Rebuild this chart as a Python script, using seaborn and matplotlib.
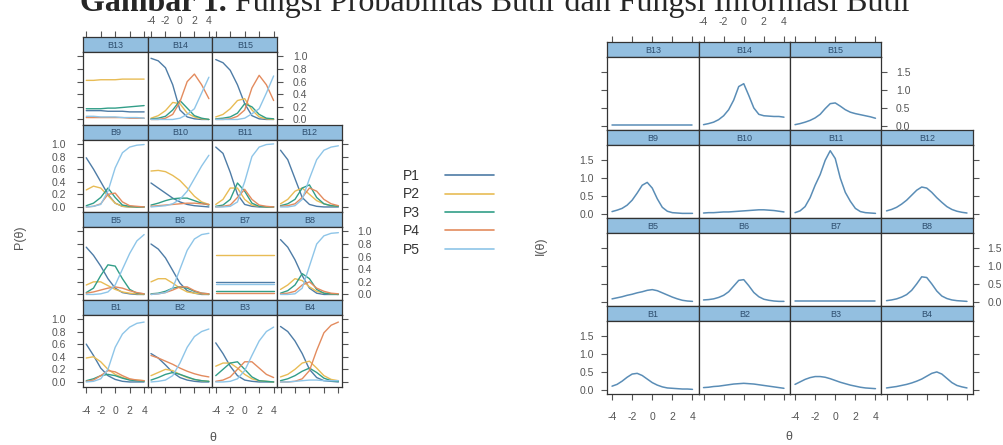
import numpy as np
import pandas as pd
import matplotlib
matplotlib.use("Agg")
import matplotlib.pyplot as plt
import seaborn as sns

# ---------------- data ----------------
theta_p = [-4, -3, -2, -1, 0, 1, 2, 3, 4]
theta_i = [-4, -3.5, -3, -2.5, -2, -1.5, -1, -0.5, 0, 0.5, 1, 1.5, 2, 2.5, 3, 3.5, 4]
categories = ["P1", "P2", "P3", "P4", "P5"]
x_ticks = [-4, -2, 0, 2, 4]
x_ticklabels = ["-4", "-2", "0", "2", "4"]
p_yticks = [0.0, 0.2, 0.4, 0.6, 0.8, 1.0]
p_yticklabels = ["0.0", "0.2", "0.4", "0.6", "0.8", "1.0"]
i_yticks = [0.0, 0.5, 1.0, 1.5]
i_yticklabels = ["0.0", "0.5", "1.0", "1.5"]
title_bold = "Gambar 1."
title_rest = " Fungsi Probabilitas Butir dan Fungsi Informasi Butir"

# probability curves: rows = P1..P5, values at theta_p
prob_B1 = [[0.60, 0.42, 0.22, 0.10, 0.04, 0.01, 0.00, 0.00, 0.00],
           [0.38, 0.40, 0.32, 0.20, 0.12, 0.07, 0.04, 0.03, 0.02],
           [0.02, 0.05, 0.10, 0.12, 0.10, 0.06, 0.03, 0.02, 0.01],
           [0.01, 0.03, 0.10, 0.18, 0.16, 0.10, 0.05, 0.03, 0.02],
           [0.00, 0.01, 0.05, 0.20, 0.55, 0.76, 0.87, 0.93, 0.95]]
prob_B2 = [[0.45, 0.38, 0.27, 0.15, 0.07, 0.03, 0.01, 0.00, 0.00],
           [0.10, 0.15, 0.20, 0.18, 0.12, 0.07, 0.04, 0.02, 0.01],
           [0.03, 0.07, 0.12, 0.15, 0.12, 0.08, 0.04, 0.02, 0.01],
           [0.42, 0.38, 0.33, 0.28, 0.22, 0.17, 0.13, 0.10, 0.08],
           [0.00, 0.01, 0.03, 0.10, 0.30, 0.55, 0.72, 0.80, 0.84]]
prob_B3 = [[0.62, 0.45, 0.25, 0.10, 0.03, 0.01, 0.00, 0.00, 0.00],
           [0.25, 0.30, 0.30, 0.22, 0.12, 0.05, 0.02, 0.01, 0.00],
           [0.10, 0.20, 0.30, 0.32, 0.20, 0.08, 0.02, 0.01, 0.00],
           [0.01, 0.03, 0.08, 0.20, 0.32, 0.32, 0.22, 0.12, 0.07],
           [0.00, 0.00, 0.01, 0.05, 0.18, 0.42, 0.65, 0.80, 0.87]]
prob_B4 = [[0.88, 0.80, 0.65, 0.45, 0.20, 0.07, 0.02, 0.01, 0.00],
           [0.08, 0.12, 0.20, 0.30, 0.33, 0.22, 0.10, 0.04, 0.02],
           [0.02, 0.05, 0.10, 0.17, 0.22, 0.15, 0.06, 0.02, 0.01],
           [0.00, 0.00, 0.01, 0.05, 0.18, 0.50, 0.78, 0.90, 0.95],
           [0.00, 0.00, 0.01, 0.02, 0.03, 0.03, 0.02, 0.02, 0.02]]
prob_B5 = [[0.75, 0.62, 0.45, 0.25, 0.10, 0.03, 0.01, 0.00, 0.00],
           [0.15, 0.20, 0.20, 0.14, 0.08, 0.04, 0.02, 0.01, 0.00],
           [0.03, 0.10, 0.30, 0.47, 0.45, 0.25, 0.08, 0.02, 0.01],
           [0.02, 0.04, 0.07, 0.10, 0.12, 0.10, 0.06, 0.03, 0.01],
           [0.00, 0.00, 0.01, 0.04, 0.15, 0.40, 0.65, 0.85, 0.95]]
prob_B6 = [[0.80, 0.72, 0.58, 0.38, 0.18, 0.06, 0.02, 0.00, 0.00],
           [0.20, 0.25, 0.25, 0.18, 0.10, 0.04, 0.02, 0.01, 0.00],
           [0.01, 0.02, 0.05, 0.10, 0.12, 0.10, 0.05, 0.02, 0.01],
           [0.00, 0.01, 0.03, 0.07, 0.12, 0.12, 0.06, 0.02, 0.01],
           [0.00, 0.01, 0.03, 0.10, 0.40, 0.70, 0.88, 0.95, 0.97]]
prob_B7 = [[0.19, 0.19, 0.19, 0.19, 0.19, 0.19, 0.19, 0.19, 0.19],
           [0.62, 0.62, 0.62, 0.62, 0.62, 0.62, 0.62, 0.62, 0.62],
           [0.05, 0.05, 0.05, 0.05, 0.05, 0.05, 0.05, 0.05, 0.05],
           [0.03, 0.03, 0.03, 0.03, 0.03, 0.03, 0.03, 0.03, 0.03],
           [0.16, 0.16, 0.16, 0.16, 0.16, 0.16, 0.16, 0.16, 0.16]]
prob_B8 = [[0.87, 0.75, 0.55, 0.30, 0.10, 0.02, 0.00, 0.00, 0.00],
           [0.08, 0.15, 0.25, 0.22, 0.12, 0.05, 0.02, 0.01, 0.00],
           [0.02, 0.06, 0.15, 0.33, 0.25, 0.08, 0.02, 0.01, 0.00],
           [0.01, 0.02, 0.05, 0.15, 0.20, 0.10, 0.05, 0.02, 0.01],
           [0.00, 0.00, 0.01, 0.10, 0.45, 0.80, 0.93, 0.97, 0.98]]
prob_B9 = [[0.78, 0.60, 0.40, 0.20, 0.06, 0.01, 0.00, 0.00, 0.00],
           [0.27, 0.33, 0.30, 0.18, 0.06, 0.01, 0.00, 0.00, 0.00],
           [0.02, 0.06, 0.15, 0.30, 0.15, 0.03, 0.01, 0.00, 0.00],
           [0.00, 0.01, 0.05, 0.20, 0.22, 0.08, 0.02, 0.01, 0.00],
           [0.00, 0.01, 0.04, 0.25, 0.62, 0.86, 0.95, 0.98, 0.99]]
prob_B10 = [[0.38, 0.30, 0.22, 0.14, 0.08, 0.04, 0.02, 0.01, 0.00],
            [0.57, 0.58, 0.56, 0.50, 0.42, 0.30, 0.17, 0.08, 0.04],
            [0.03, 0.06, 0.10, 0.13, 0.14, 0.14, 0.10, 0.06, 0.03],
            [0.01, 0.02, 0.03, 0.04, 0.05, 0.06, 0.06, 0.05, 0.04],
            [0.00, 0.01, 0.02, 0.05, 0.12, 0.25, 0.45, 0.65, 0.82]]
prob_B11 = [[0.95, 0.85, 0.55, 0.20, 0.04, 0.01, 0.00, 0.00, 0.00],
            [0.04, 0.12, 0.30, 0.30, 0.12, 0.03, 0.01, 0.00, 0.00],
            [0.01, 0.03, 0.12, 0.38, 0.25, 0.06, 0.01, 0.00, 0.00],
            [0.00, 0.01, 0.03, 0.15, 0.28, 0.12, 0.03, 0.01, 0.00],
            [0.00, 0.00, 0.01, 0.08, 0.40, 0.80, 0.95, 0.99, 1.00]]
prob_B12 = [[0.90, 0.75, 0.45, 0.15, 0.04, 0.01, 0.00, 0.00, 0.00],
            [0.05, 0.12, 0.25, 0.30, 0.20, 0.10, 0.05, 0.02, 0.01],
            [0.02, 0.05, 0.12, 0.30, 0.35, 0.15, 0.05, 0.02, 0.01],
            [0.01, 0.02, 0.05, 0.15, 0.30, 0.25, 0.12, 0.05, 0.02],
            [0.00, 0.00, 0.02, 0.12, 0.45, 0.75, 0.90, 0.95, 0.97]]
prob_B13 = [[0.14, 0.14, 0.14, 0.13, 0.13, 0.13, 0.12, 0.12, 0.12],
            [0.62, 0.62, 0.63, 0.63, 0.63, 0.64, 0.64, 0.64, 0.64],
            [0.17, 0.17, 0.17, 0.18, 0.18, 0.19, 0.20, 0.21, 0.22],
            [0.03, 0.03, 0.03, 0.03, 0.03, 0.03, 0.02, 0.02, 0.02],
            [0.05, 0.05, 0.04, 0.04, 0.04, 0.03, 0.03, 0.03, 0.02]]
prob_B14 = [[0.97, 0.93, 0.82, 0.55, 0.15, 0.04, 0.01, 0.00, 0.00],
            [0.02, 0.06, 0.14, 0.27, 0.25, 0.10, 0.04, 0.01, 0.00],
            [0.01, 0.02, 0.05, 0.15, 0.30, 0.18, 0.06, 0.02, 0.00],
            [0.00, 0.00, 0.02, 0.08, 0.28, 0.60, 0.72, 0.55, 0.33],
            [0.00, 0.00, 0.00, 0.00, 0.02, 0.08, 0.17, 0.42, 0.67]]
prob_B15 = [[0.95, 0.90, 0.78, 0.55, 0.25, 0.06, 0.01, 0.00, 0.00],
            [0.04, 0.08, 0.17, 0.30, 0.33, 0.15, 0.04, 0.01, 0.00],
            [0.01, 0.02, 0.04, 0.10, 0.25, 0.20, 0.08, 0.02, 0.01],
            [0.00, 0.00, 0.01, 0.05, 0.15, 0.50, 0.70, 0.55, 0.30],
            [0.00, 0.00, 0.00, 0.00, 0.02, 0.09, 0.17, 0.42, 0.69]]

# item information curves at theta_i
info_B1 = [0.10, 0.15, 0.24, 0.35, 0.44, 0.46, 0.40, 0.30, 0.20, 0.13, 0.08, 0.05, 0.04, 0.03, 0.02, 0.02, 0.01]
info_B2 = [0.06, 0.07, 0.09, 0.10, 0.12, 0.14, 0.16, 0.17, 0.18, 0.17, 0.16, 0.14, 0.12, 0.10, 0.08, 0.06, 0.04]
info_B3 = [0.15, 0.22, 0.29, 0.34, 0.37, 0.37, 0.35, 0.31, 0.26, 0.21, 0.17, 0.13, 0.10, 0.07, 0.05, 0.04, 0.03]
info_B4 = [0.05, 0.07, 0.09, 0.12, 0.15, 0.19, 0.24, 0.30, 0.38, 0.46, 0.50, 0.44, 0.32, 0.20, 0.12, 0.08, 0.05]
info_B5 = [0.08, 0.11, 0.14, 0.18, 0.21, 0.25, 0.28, 0.32, 0.34, 0.31, 0.25, 0.19, 0.13, 0.08, 0.04, 0.02, 0.01]
info_B6 = [0.05, 0.06, 0.08, 0.12, 0.18, 0.28, 0.44, 0.60, 0.62, 0.45, 0.26, 0.14, 0.07, 0.04, 0.02, 0.01, 0.01]
info_B7 = [0.01, 0.01, 0.01, 0.01, 0.01, 0.01, 0.01, 0.01, 0.01, 0.01, 0.01, 0.01, 0.01, 0.01, 0.01, 0.01, 0.01]
info_B8 = [0.03, 0.05, 0.08, 0.13, 0.20, 0.32, 0.50, 0.70, 0.68, 0.50, 0.30, 0.16, 0.09, 0.05, 0.03, 0.02, 0.01]
info_B9 = [0.06, 0.10, 0.15, 0.24, 0.38, 0.58, 0.80, 0.88, 0.72, 0.42, 0.18, 0.07, 0.03, 0.02, 0.01, 0.01, 0.01]
info_B10 = [0.02, 0.03, 0.03, 0.04, 0.05, 0.05, 0.06, 0.07, 0.08, 0.09, 0.10, 0.11, 0.11, 0.10, 0.09, 0.07, 0.05]
info_B11 = [0.03, 0.08, 0.20, 0.45, 0.80, 1.10, 1.50, 1.77, 1.55, 1.00, 0.60, 0.35, 0.15, 0.06, 0.03, 0.02, 0.01]
info_B12 = [0.08, 0.12, 0.18, 0.27, 0.38, 0.52, 0.66, 0.75, 0.72, 0.60, 0.45, 0.32, 0.20, 0.12, 0.07, 0.04, 0.02]
info_B13 = [0.02, 0.02, 0.02, 0.02, 0.02, 0.02, 0.02, 0.02, 0.02, 0.02, 0.02, 0.02, 0.02, 0.02, 0.02, 0.02, 0.02]
info_B14 = [0.03, 0.06, 0.10, 0.17, 0.28, 0.45, 0.72, 1.10, 1.18, 0.85, 0.50, 0.32, 0.28, 0.27, 0.26, 0.26, 0.24]
info_B15 = [0.03, 0.06, 0.10, 0.15, 0.22, 0.32, 0.48, 0.62, 0.64, 0.55, 0.45, 0.38, 0.34, 0.31, 0.28, 0.25, 0.21]

prob_items = {"B1": prob_B1, "B2": prob_B2, "B3": prob_B3, "B4": prob_B4, "B5": prob_B5,
              "B6": prob_B6, "B7": prob_B7, "B8": prob_B8, "B9": prob_B9, "B10": prob_B10,
              "B11": prob_B11, "B12": prob_B12, "B13": prob_B13, "B14": prob_B14, "B15": prob_B15}
info_items = {"B1": info_B1, "B2": info_B2, "B3": info_B3, "B4": info_B4, "B5": info_B5,
              "B6": info_B6, "B7": info_B7, "B8": info_B8, "B9": info_B9, "B10": info_B10,
              "B11": info_B11, "B12": info_B12, "B13": info_B13, "B14": info_B14, "B15": info_B15}

layout_rows = [["B13", "B14", "B15"],
               ["B9", "B10", "B11", "B12"],
               ["B5", "B6", "B7", "B8"],
               ["B1", "B2", "B3", "B4"]]

# ---------------- style ----------------
sns.set_style("white")
plt.rcParams["font.family"] = ["Liberation Sans", "DejaVu Sans"]
plt.rcParams["axes.unicode_minus"] = False

cat_colors = ["#4E7CA6", "#E8BC55", "#329E88", "#E38B5E", "#8EC5E8"]
palette = dict(zip(categories, cat_colors))
info_color = "#5A8DB6"
strip_color = "#93BFE0"
border_color = "#333333"
tick_color = "#555555"

W, H = 1004, 445
fig = plt.figure(figsize=(W / 100, H / 100), dpi=100)


def frac(x, y, w, h):
    return [x / W, 1 - (y + h) / H, w / W, h / H]


def style_axes(ax):
    for s in ax.spines.values():
        s.set_color(border_color)
        s.set_linewidth(0.9)
    ax.tick_params(axis="both", which="both", direction="out", length=4.3, width=0.8,
                   color=tick_color, labelsize=7.5, labelcolor=tick_color,
                   left=False, right=False, top=False, bottom=False,
                   labelleft=False, labelright=False, labeltop=False, labelbottom=False)
    ax.set_xlabel("")
    ax.set_ylabel("")


def draw_trellis(x0, y0, cw, period, sh, ph, xlim, ylim, yticks, yticklabels, draw_fn,
                 pad_top, pad_bottom, pad_left, pad_right):
    for r, row in enumerate(layout_rows):
        ncol = len(row)
        for c, name in enumerate(row):
            x = x0 + c * cw
            ytop = y0 + r * period
            # strip
            axs = fig.add_axes(frac(x, ytop, cw, sh))
            axs.set_facecolor(strip_color)
            axs.set_xlim(xlim)
            axs.set_ylim(0, 1)
            style_axes(axs)
            axs.set_yticks([])
            axs.text(0.5, 0.45, name, transform=axs.transAxes, ha="center", va="center",
                     fontsize=6.5, color="#2E4E6E")
            if r == 0:
                axs.set_xticks(x_ticks)
                axs.set_xticklabels(x_ticklabels)
                axs.tick_params(axis="x", top=True, labeltop=(c == 1), pad=pad_top)
            else:
                axs.set_xticks([])
            # panel
            ax = fig.add_axes(frac(x, ytop + sh, cw, ph))
            draw_fn(ax, name)
            ax.set_xlim(xlim)
            ax.set_ylim(ylim)
            style_axes(ax)
            ax.set_xticks(x_ticks)
            ax.set_xticklabels(x_ticklabels)
            ax.set_yticks(yticks)
            ax.set_yticklabels(yticklabels)
            if c == 0:
                ax.tick_params(axis="y", which="both", left=True,
                               labelleft=(r in (1, 3)), pad=pad_left)
            if c == ncol - 1:
                ax.tick_params(axis="y", which="both", right=True,
                               labelright=(r in (0, 2)), pad=pad_right)
            if r == len(layout_rows) - 1:
                ax.tick_params(axis="x", bottom=True, labelbottom=(c in (0, 2)), pad=pad_bottom)


def draw_prob(ax, name):
    vals = prob_items[name]
    df = pd.DataFrame({
        "theta": np.tile(theta_p, len(categories)),
        "prob": np.concatenate(vals),
        "cat": np.repeat(categories, len(theta_p)),
    })
    sns.lineplot(data=df, x="theta", y="prob", hue="cat", palette=palette, ax=ax,
                 legend=False, linewidth=1.0, errorbar=None)


def draw_info(ax, name):
    df = pd.DataFrame({"theta": theta_i, "info": info_items[name]})
    sns.lineplot(data=df, x="theta", y="info", color=info_color, ax=ax,
                 linewidth=1.1, errorbar=None)


# left trellis: probability functions
draw_trellis(83, 37, 64.75, 87.5, 15, 72.5, (-4.45, 4.5), (-0.08, 1.07),
             p_yticks, p_yticklabels, draw_prob,
             pad_top=3.5, pad_bottom=9.5, pad_left=8, pad_right=7)
# right trellis: information functions
draw_trellis(607, 42, 91.5, 88, 15, 73, (-4.5, 4.6), (-0.12, 1.93),
             i_yticks, i_yticklabels, draw_info,
             pad_top=6.5, pad_bottom=8.5, pad_left=5, pad_right=6)

# axis labels
fig.text(20 / W, 1 - 237 / H, "P(θ)", rotation=90, ha="center", va="center",
         fontsize=9, color=tick_color)
fig.text(213 / W, 1 - 438 / H, "θ", ha="center", va="center", fontsize=9, color=tick_color)
fig.text(541 / W, 1 - 246 / H, "I(θ)", rotation=90, ha="center", va="center",
         fontsize=9, color=tick_color)
fig.text(789 / W, 1 - 437 / H, "θ", ha="center", va="center", fontsize=9, color=tick_color)

# legend
handles = [plt.Line2D([], [], color=col, linewidth=1.2) for col in cat_colors]
leg = fig.legend(handles, categories, loc="upper left",
                 bbox_to_anchor=(403 / W, 1 - 169 / H), frameon=False,
                 markerfirst=False, fontsize=10, handlelength=3.5, handletextpad=1.8,
                 labelspacing=0.32, borderpad=0, borderaxespad=0)
for t in leg.get_texts():
    t.set_color("#333333")

# title (bold + regular), scaled to the reference width
fig.canvas.draw()
renderer = fig.canvas.get_renderer()
fs = 20
base_y = 1 - 11 / H
tb = fig.text(80 / W, base_y, title_bold, ha="left", va="baseline",
              fontsize=fs, fontweight="bold", family="Liberation Serif")
tr = fig.text(0, base_y, title_rest, ha="left", va="baseline",
              fontsize=fs, family="Liberation Serif")
wb = tb.get_window_extent(renderer).width
wr = tr.get_window_extent(renderer).width
scale = 835 / (wb + wr)
fs2 = fs * scale
tb.set_fontsize(fs2)
tr.set_fontsize(fs2)
wb = tb.get_window_extent(renderer).width
tr.set_x((80 + wb) / W)

fig.savefig("out.png", dpi=100)
